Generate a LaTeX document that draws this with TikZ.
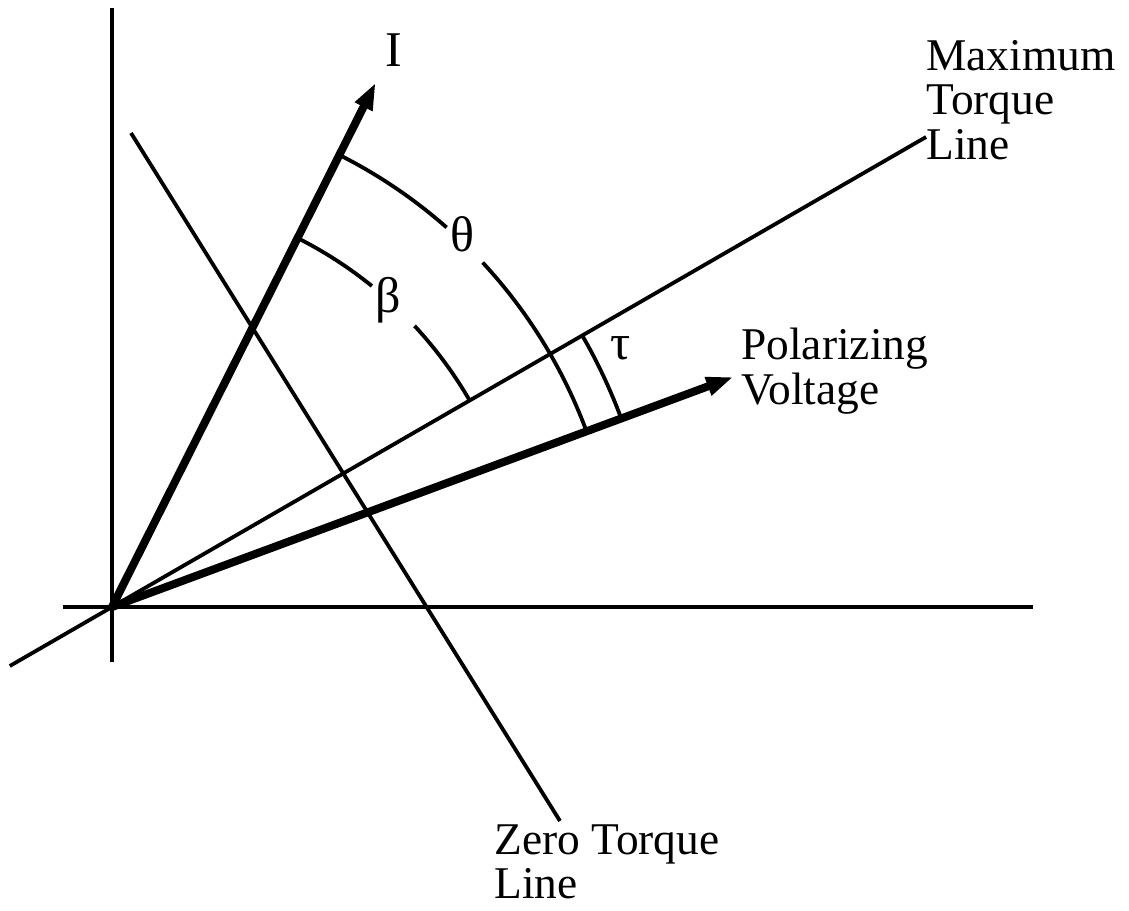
\documentclass[tikz,border=0pt]{standalone}
\usepackage{fontspec}
\setmainfont{Liberation Serif}
\usetikzlibrary{arrows.meta}
\begin{document}
\begin{tikzpicture}[x=0.5pt,y=0.5pt,
  thinline/.style={line width=1.9pt},
  vector/.style={line width=4pt,-{Triangle[length=13.5pt,width=9pt]}},
  lbl/.style={inner sep=0pt,font=\fontsize{22.7}{22.2}\selectfont},
  greek/.style={inner sep=0pt,font=\fontsize{25}{25}\selectfont},
]
\useasboundingbox (0,0) rectangle (1129,910);
\coordinate (O) at (112,303);
\coordinate (yTop) at (112,902);
\coordinate (yBot) at (112,248);
\coordinate (xL) at (63,303);
\coordinate (xR) at (1033,303);
\path (O) ++(210:118) coordinate (mtlA);
\path (O) ++(30:940) coordinate (mtlB);
\coordinate (ztA) at (131,777);
\coordinate (ztB) at (560,89);
\coordinate (Itip) at (375.7,827.3);
\coordinate (Vtip) at (733.3,533);

\draw[thinline] (yBot) -- (yTop);
\draw[thinline] (xL) -- (xR);
\draw[thinline] (mtlA) -- (mtlB);
\draw[thinline] (ztA) -- (ztB);
\draw[vector] (O) -- (Itip);
\draw[vector] (O) -- (Vtip);

\draw[thinline] (O) ++(63.3:506) arc[start angle=63.3,end angle=48.6,radius=506];
\draw[thinline] (O) ++(42.9:506) arc[start angle=42.9,end angle=20.3,radius=506];
\draw[thinline] (O) ++(63.3:413) arc[start angle=63.3,end angle=51,radius=413];
\draw[thinline] (O) ++(42.9:413) arc[start angle=42.9,end angle=30,radius=413];
\draw[thinline] (O) ++(30:543) arc[start angle=30,end angle=20.3,radius=543];

\node[greek,anchor=base] (Ilbl) at (393.5,843) {I};
\node[lbl,anchor=north west,align=left] (mtlLbl) at (926,870) {Maximum\\Torque\\Line};
\node[lbl,anchor=north west,align=left] (pvLbl) at (741,582) {Polarizing\\Voltage};
\node[lbl,anchor=north west,align=left] (ztLbl) at (494,86) {Zero Torque\\Line};
\node[greek] (theta) at (462,676) {θ};
\node[greek] (beta) at (388,610) {β};
\node[greek] (tau) at (621,562) {τ};
\end{tikzpicture}
\end{document}
